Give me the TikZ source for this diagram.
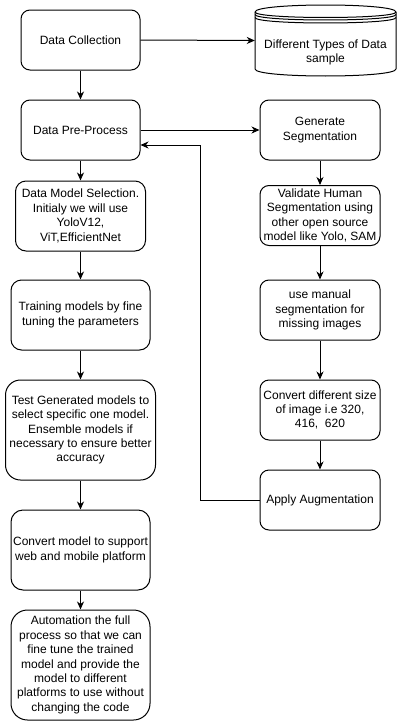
\documentclass[tikz,border=0pt]{standalone}
\usepackage{fontspec}
\setmainfont{Liberation Sans}
\usetikzlibrary{arrows.meta,calc}
\begin{document}
\begin{tikzpicture}[x=1pt,y=-1pt,
  box/.style={draw=black,line width=1pt,fill=white,rectangle,align=center,inner sep=0pt,font=\fontsize{12pt}{14.4pt}\selectfont},
  arr/.style={-{Stealth[length=8pt,width=7pt,inset=2.5pt]},line width=1pt},
  txt/.style={align=center,inner sep=0pt,font=\fontsize{12pt}{14.4pt}\selectfont}]
\useasboundingbox (0,0) rectangle (401,726);
\fill[white] (0,0) rectangle (401,726);

% left column
\node[box,minimum width=119pt,minimum height=60pt,rounded corners=9pt] (dc) at (80.5,40) {Data Collection};
\node[box,minimum width=119pt,minimum height=60pt,rounded corners=9pt] (pp) at (80.5,130) {Data Pre-Process};
\node[box,minimum width=130pt,minimum height=70pt,rounded corners=10.5pt] (dms) at (80.5,216) {Data Model Selection.\\Initialy we will use\\YoloV12,\\ViT,EfficientNet};
\node[box,minimum width=139pt,minimum height=70pt,rounded corners=10.5pt] (train) at (80.5,315) {Training models by fine\\tuning the parameters};
\node[box,minimum width=150pt,minimum height=100pt,rounded corners=15pt] (test) at (80.5,430) {Test Generated models to\\select specific one model.\\Ensemble models if\\necessary to ensure better\\accuracy};
\node[box,minimum width=139pt,minimum height=80pt,rounded corners=12pt] (web) at (80.5,550) {Convert model to support\\web and mobile platform};
\node[box,minimum width=139pt,minimum height=110pt,rounded corners=16.5pt] (auto) at (80.5,665) {Automation the full\\process so that we can\\fine tune the trained\\model and provide the\\model to different\\platforms to use without\\changing the code};

% right column
\node[box,minimum width=120pt,minimum height=60pt,rounded corners=9pt] (gs) at (320,130) {Generate\\Segmentation};
\node[box,minimum width=120pt,minimum height=60pt,rounded corners=9pt] (vhs) at (320,215.5) {Validate Human\\Segmentation using\\other open source\\model like Yolo, SAM};
\node[box,minimum width=120pt,minimum height=60pt,rounded corners=9pt] (manual) at (320,310) {use manual\\segmentation for\\missing images};
\node[box,minimum width=120pt,minimum height=60pt,rounded corners=9pt] (conv) at (320,410) {Convert different size\\of image i.e 320,\\416,\ \ 620};
\node[box,minimum width=120pt,minimum height=60pt,rounded corners=9pt] (aug) at (320,500) {Apply Augmentation};

% data store
\node[rectangle,inner sep=0pt,minimum width=141pt,minimum height=71pt] (ds) at (325.5,40.5) {};
\draw[line width=1pt,fill=white] (255,12) .. controls (255,2.67) and (396,2.67) .. (396,12)
   -- (396,69) .. controls (396,78.33) and (255,78.33) .. (255,69) -- cycle;
\draw[line width=1pt] (255,12) .. controls (255,19.33) and (396,19.33) .. (396,12);
\draw[line width=1pt] (255,14.5) .. controls (255,21.83) and (396,21.83) .. (396,14.5);
\draw[line width=1pt] (255,17.5) .. controls (255,24.83) and (396,24.83) .. (396,17.5);
\node[txt] (dst) at (325.5,52.5) {Different Types of Data\\sample};

% connectors
\draw[arr] (dc.east) -- (ds.west);
\draw[arr] (dc.south) -- (pp.north);
\draw[arr] (pp.east) -- (gs.west);
\draw[arr] (pp.south) -- (dms.north);
\draw[arr] (dms.south) -- (train.north);
\draw[arr] (train.south) -- (test.north);
\draw[arr] (test.south) -- (web.north);
\draw[arr] (web.south) -- (auto.north);
\draw[arr] (gs.south) -- (vhs.north);
\draw[arr] (vhs.south) -- (manual.north);
\draw[arr] (manual.south) -- (conv.north);
\draw[arr] (conv.south) -- (aug.north);
\coordinate (fb) at (200,500);
\draw[arr] (aug.west) -- (fb) |- ([yshift=-15pt]pp.east);
\end{tikzpicture}
\end{document}
